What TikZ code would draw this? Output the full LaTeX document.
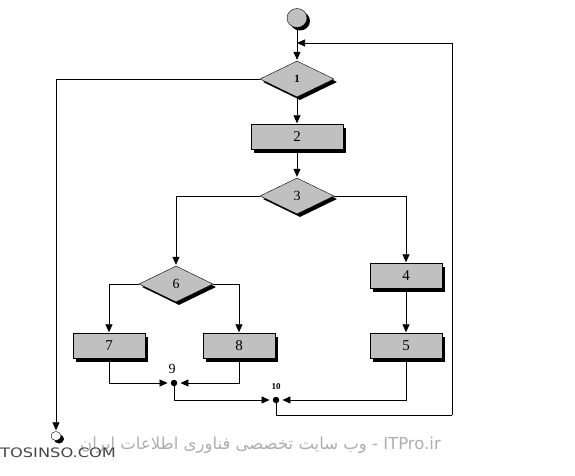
\documentclass[tikz,border=0pt]{standalone}
\usepackage{fontspec}
\setmainfont{Liberation Serif}
\newfontfamily\wmfont{DejaVu Sans}
\newfontfamily\arabicfont[Script=Arabic]{DejaVu Sans}
\TeXXeTstate=1
\usetikzlibrary{shapes.geometric,arrows.meta,shadows}
\definecolor{nodegray}{RGB}{192,192,192}
\definecolor{wmgray}{RGB}{175,175,175}
\definecolor{wmdark}{RGB}{70,70,70}
\begin{document}
\begin{tikzpicture}[x=1pt,y=-1pt,
  shd/.style={drop shadow={shadow xshift=3pt,shadow yshift=-3pt,fill=black,opacity=1}},
  boxnode/.style={rectangle,draw=black,fill=nodegray,shd,minimum width=92pt,minimum height=25pt,inner sep=0pt,font=\fontsize{15}{15}\selectfont},
  smallbox/.style={boxnode,minimum width=72pt},
  decision/.style={diamond,draw=black,fill=nodegray,shd,minimum width=74pt,minimum height=36pt,inner sep=0pt,font=\fontsize{14}{14}\selectfont},
  junction/.style={circle,fill=black,minimum size=6.5pt,inner sep=0pt},
  arr/.style={draw=black,line width=0.75pt,-{Triangle[length=8pt,width=7pt]},shorten >=1pt},
  ln/.style={draw=black,line width=0.75pt},
  lbl/.style={inner sep=0pt}]
\useasboundingbox (0,0) rectangle (575,476);
\fill[white] (0,0) rectangle (575,476);
% nodes
\node[ellipse,draw=black,fill=nodegray,shd,minimum width=20pt,minimum height=19pt,inner sep=0pt] (start) at (297,18) {};
\node[decision,font=\bfseries\fontsize{11}{11}\selectfont] (d1) at (297,79) {1};
\node[boxnode] (b2) at (297,137) {2};
\node[decision] (d3) at (297,196) {3};
\node[smallbox] (b4) at (406,276) {4};
\node[smallbox] (b5) at (406,346) {5};
\node[decision] (d6) at (176,284) {6};
\node[smallbox] (b7) at (109,346) {7};
\node[smallbox] (b8) at (239,346) {8};
\node[junction] (j9) at (174,383) {};
\node[lbl,font=\fontsize{14}{14}\selectfont] (l9) at (172,369) {9};
\node[junction] (j10) at (276,400) {};
\node[lbl,font=\bfseries\fontsize{9}{9}\selectfont] (l10) at (276,387) {10};
\node[ellipse,draw=black,fill=white,shd,minimum width=10pt,minimum height=9pt,inner sep=0pt] (stop) at (56,436) {};
\coordinate (m) at (297,43);
\coordinate (c1) at (452,415);
% connectors
\draw[arr] (start) -- (d1.north);
\draw[arr] (d1.south) -- (b2.north);
\draw[arr] (b2.south) -- (d3.north);
\draw[arr] (d1.west) -| (stop.north);
\draw[arr] (d3.west) -| (d6.north);
\draw[arr] (d3.east) -| (b4.north);
\draw[arr] (b4.south) -- (b5.north);
\draw[arr] (d6.west) -| (b7.north);
\draw[arr] (d6.east) -| (b8.north);
\draw[arr,shorten >=3pt] (b7.south) |- (j9);
\draw[arr,shorten >=3pt] (b8.south) |- (j9);
\draw[arr,shorten >=3pt] (j9) |- (j10);
\draw[arr,shorten >=3pt] (b5.south) |- (j10);
\draw[ln] (j10) |- (c1);
\draw[arr,shorten >=0pt] (c1) |- (m);
% watermark
\node[wmgray,font=\fontsize{16.5}{16.5}\selectfont,anchor=east,inner sep=0pt] (wm1) at (441,445) {\arabicfont\beginR وب سایت تخصصی فناوری اطلاعات ایران\endR{} - \wmfont ITPro.ir};
\node[wmdark,font=\wmfont\fontsize{13}{13}\selectfont,anchor=west,inner sep=0pt] (wm2) at (0,453) {\scalebox{1.25}[1]{TOSINSO.COM}};
\end{tikzpicture}
\end{document}
